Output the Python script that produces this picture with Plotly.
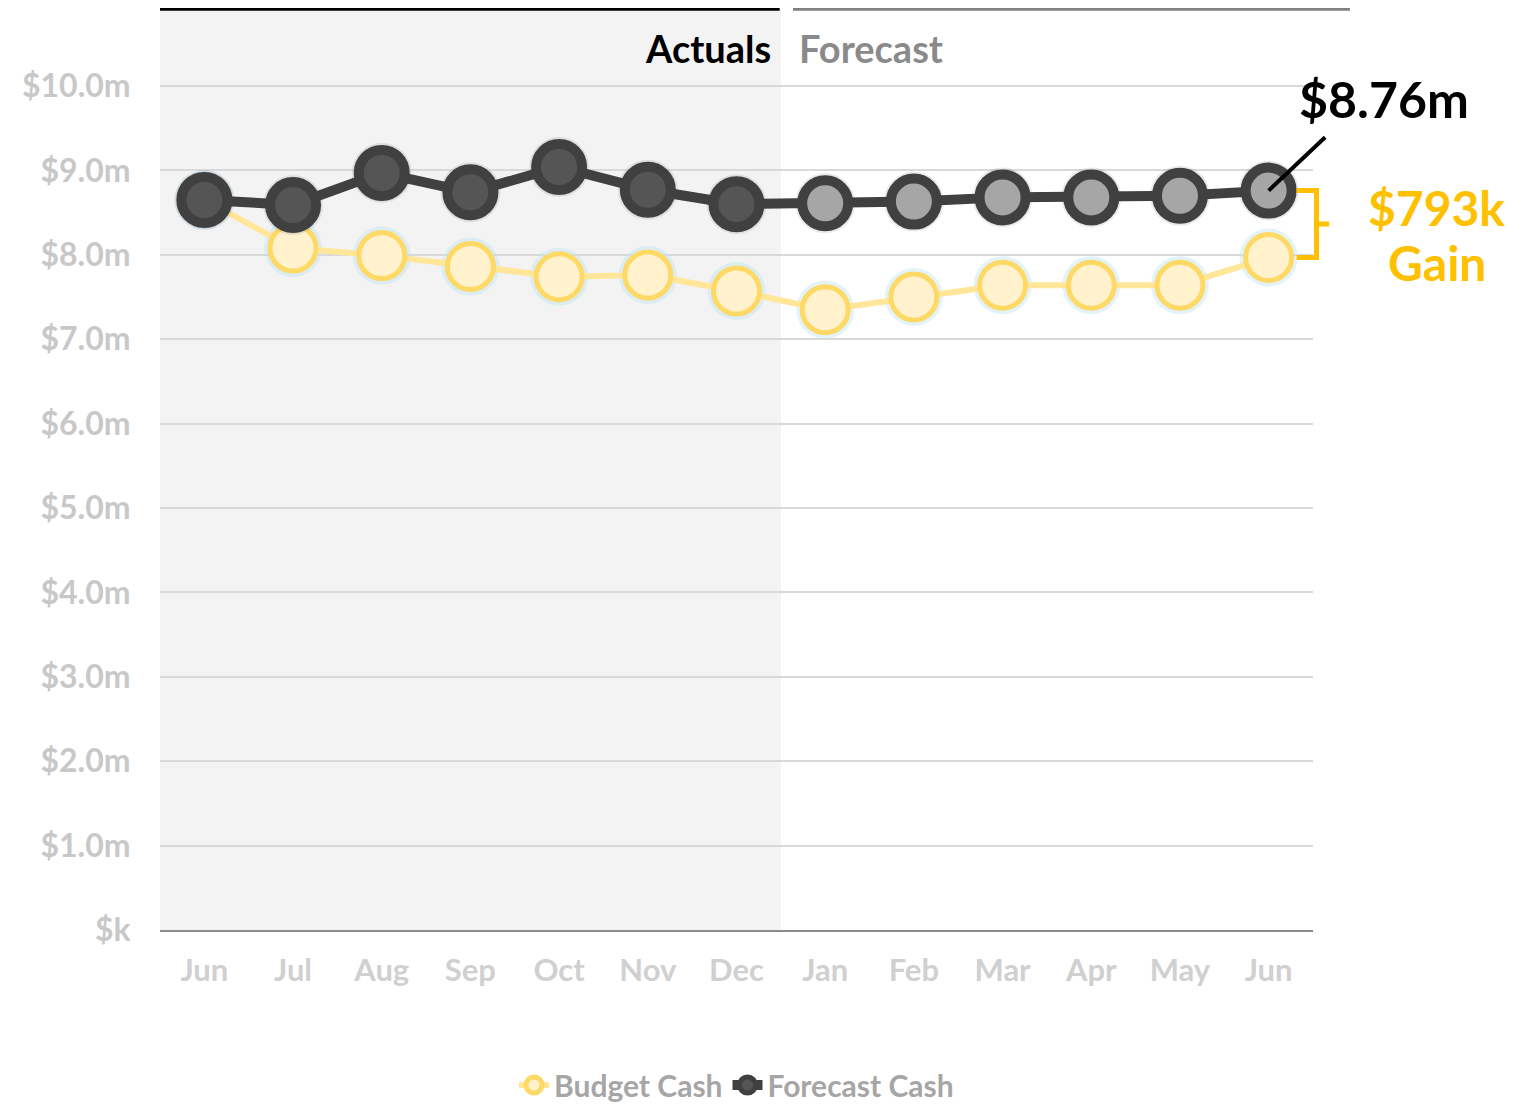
import plotly.graph_objects as go

months = ["Jun", "Jul", "Aug", "Sep", "Oct", "Nov", "Dec", "Jan", "Feb", "Mar", "Apr", "May", "Jun"]
forecast_cash = [8.65, 8.59, 8.97, 8.74, 9.04, 8.77, 8.60, 8.61, 8.63, 8.68, 8.68, 8.70, 8.76]
budget_cash = [8.65, 8.08, 7.99, 7.86, 7.74, 7.76, 7.57, 7.35, 7.50, 7.64, 7.64, 7.64, 7.967]
n_actual = 7
y_ticks = [0, 1, 2, 3, 4, 5, 6, 7, 8, 9, 10]
y_tick_text = ["$k", "$1.0m", "$2.0m", "$3.0m", "$4.0m", "$5.0m", "$6.0m", "$7.0m", "$8.0m", "$9.0m", "$10.0m"]

FONT = "Lato"
Y_MAX = 10.9
x_idx = list(range(len(months)))

fig = go.Figure()

# budget glow
fig.add_trace(go.Scatter(
    x=x_idx, y=budget_cash, mode="markers", showlegend=False, hoverinfo="skip",
    marker=dict(size=58, color="rgba(190,228,245,0.45)", line=dict(width=0)),
))
fig.add_trace(go.Scatter(
    x=x_idx, y=budget_cash, mode="lines+markers", name="Budget Cash",
    line=dict(color="#FFE699", width=6),
    marker=dict(size=46, color="#FFF2CC", line=dict(color="#FFD966", width=5)),
))
# forecast shadow
fig.add_trace(go.Scatter(
    x=x_idx, y=forecast_cash, mode="markers", showlegend=False, hoverinfo="skip",
    marker=dict(size=60, color="rgba(60,80,95,0.12)", line=dict(width=0)),
))
fig.add_trace(go.Scatter(
    x=x_idx, y=forecast_cash, mode="lines+markers", name="Forecast Cash",
    line=dict(color="#404040", width=10),
    marker=dict(size=46,
                color=["#555555" if i < n_actual else "#A6A6A6" for i in x_idx],
                line=dict(color="#404040", width=10)),
))

n = len(months)
def xp(i):
    return (i + 0.5) / n

shapes = [
    dict(type="rect", xref="x", yref="paper", x0=-0.5, x1=n_actual - 0.5, y0=0, y1=1.0,
         fillcolor="#F3F3F3", line=dict(width=0), layer="below"),
    dict(type="line", xref="paper", yref="paper", x0=0, x1=xp(n_actual - 0.5) - 0.001,
         y0=1.002, y1=1.002, line=dict(color="#000000", width=5)),
    dict(type="line", xref="paper", yref="paper", x0=0.549, x1=1.032,
         y0=1.002, y1=1.002, line=dict(color="#808080", width=5)),
]

# pointer line to last forecast value
last = n - 1
fy = forecast_cash[last] / Y_MAX
by = budget_cash[last] / Y_MAX
shapes.append(dict(type="line", xref="paper", yref="paper",
                   x0=xp(last), y0=fy, x1=xp(last) + 0.049, y1=fy + 0.058,
                   line=dict(color="#000000", width=4)))
# bracket
bx0 = xp(last) + 0.0243
bx1 = xp(last) + 0.0415
bx2 = xp(last) + 0.0525
mid = (fy + by) / 2
shapes.append(dict(type="path", xref="paper", yref="paper",
                   path=f"M {bx0} {fy} L {bx1} {fy} L {bx1} {by} L {bx0} {by} M {bx1} {mid} L {bx2} {mid}",
                   line=dict(color="#FFC000", width=5)))

gain_k = round((forecast_cash[last] - budget_cash[last]) * 1000)

annotations = [
    dict(xref="paper", yref="paper", x=xp(n_actual - 0.5) - 0.007, y=(930 - 48) / 920,
         text="<b>Actuals</b>", showarrow=False, xanchor="right", yanchor="middle",
         font=dict(family=FONT, size=38, color="#000000")),
    dict(xref="paper", yref="paper", x=xp(n_actual - 0.5) + 0.014, y=(930 - 48) / 920,
         text="<b>Forecast</b>", showarrow=False, xanchor="left", yanchor="middle",
         font=dict(family=FONT, size=38, color="#8A8A8A")),
    dict(xref="paper", yref="paper", x=xp(last) + 0.1, y=fy + 0.1,
         text=f"<b>${forecast_cash[last]:.2f}m</b>", showarrow=False, xanchor="center", yanchor="middle",
         font=dict(family=FONT, size=50, color="#000000")),
    dict(xref="paper", yref="paper", x=xp(last) + 0.146, y=mid + 0.0185,
         text=f"<b>${gain_k}k</b>", showarrow=False, xanchor="center", yanchor="middle",
         font=dict(family=FONT, size=48, color="#FFC000")),
    dict(xref="paper", yref="paper", x=xp(last) + 0.146, y=mid - 0.042,
         text="<b>Gain</b>", showarrow=False, xanchor="center", yanchor="middle",
         font=dict(family=FONT, size=48, color="#FFC000")),
]

fig.update_layout(
    width=1529, height=1102,
    margin=dict(l=152, r=224, t=2, b=180, autoexpand=False),
    paper_bgcolor="#FFFFFF", plot_bgcolor="#FFFFFF",
    shapes=shapes, annotations=annotations,
    showlegend=True,
    legend=dict(orientation="h", x=0.5, xanchor="center", y=(930 - 1085) / 920, yanchor="middle",
                font=dict(family=FONT, size=30, color="#A6A6A6", weight="bold"),
                itemwidth=30, tracegroupgap=0),
    font=dict(family=FONT),
)
fig.update_xaxes(
    range=[-0.5, n - 0.5], tickmode="array", tickvals=x_idx, ticktext=months,
    showgrid=False, zeroline=False, showline=True, linecolor="#8C8C8C", linewidth=2,
    ticks="outside", ticklen=12, tickcolor="rgba(0,0,0,0)",
    tickfont=dict(family=FONT, size=31, color="#D0D0D0", weight="bold"),
)
fig.update_yaxes(
    range=[0, Y_MAX], tickmode="array", tickvals=y_ticks, ticktext=y_tick_text,
    showgrid=True, gridcolor="#D9D9D9", gridwidth=2, zeroline=False, showline=False,
    ticks="outside", ticklen=22, tickcolor="rgba(0,0,0,0)",
    tickfont=dict(family=FONT, size=32, color="#C8C8C8", weight="bold"),
)

fig.write_html("out.html")
